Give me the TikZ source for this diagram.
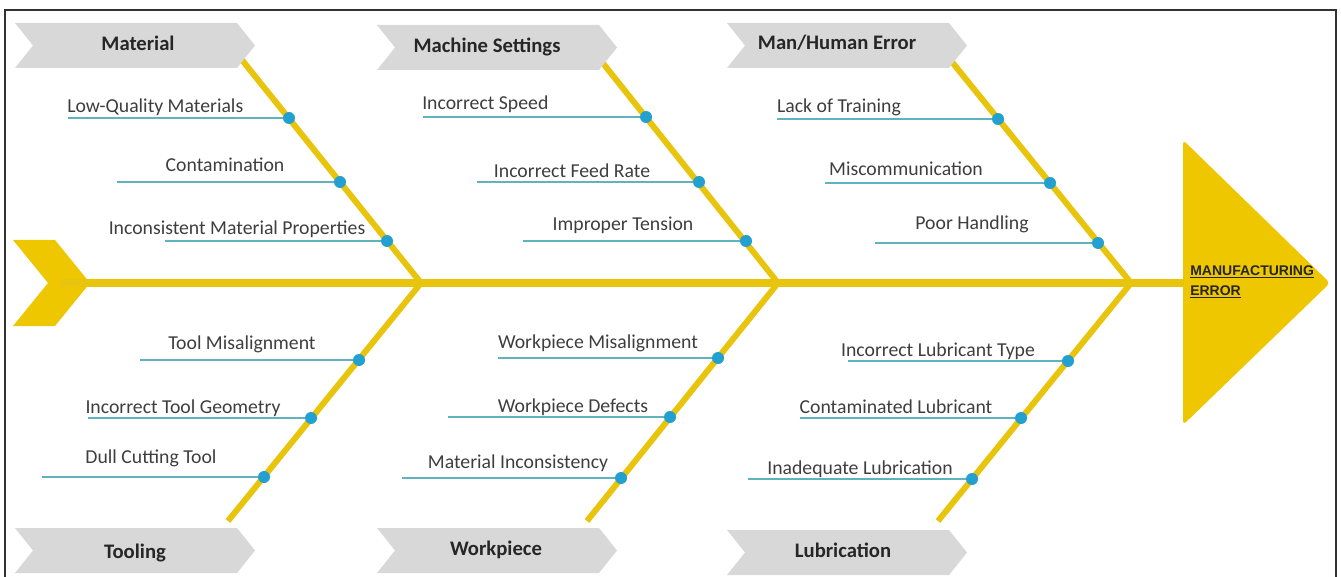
\documentclass[tikz,border=0pt]{standalone}
\usepackage{fontspec}
\setmainfont{Carlito}
\newfontfamily\headfont{Liberation Sans}

\definecolor{boneyellow}{RGB}{232,196,12}
\definecolor{headyellow}{RGB}{238,199,0}
\definecolor{catgrey}{RGB}{216,216,216}
\definecolor{linecol}{RGB}{95,178,190}
\definecolor{dotcol}{RGB}{35,160,208}
\definecolor{textcol}{RGB}{62,62,62}
\definecolor{framecol}{RGB}{50,50,50}

\tikzset{
  spine/.style={boneyellow, line width=6pt},
  bone/.style={boneyellow, line width=4.5pt},
  subline/.style={linecol, line width=1.2pt},
  dotnode/.style={circle, fill=dotcol, inner sep=0pt, minimum size=9pt},
  cause/.style={font=\fontsize{14.8}{17}\selectfont, text=textcol, anchor=base, inner sep=0pt},
  catlabel/.style={font=\fontsize{15.5}{18}\selectfont\bfseries, text=black!85, anchor=base, inner sep=0pt},
  effect/.style={font=\headfont\bfseries\fontsize{10.5}{15}\selectfont, text=black!85, align=left, anchor=west, inner sep=0pt}
}

% grey category arrow, top left corner at (#1,#2)
\newcommand{\catarrow}[2]{\fill[catgrey] (#1,#2) -- ++(222,0) -- ++(18,22.5) -- ++(-18,22.5) -- ++(-222,0) -- ++(18,-22.5) -- cycle;}

\begin{document}
\begin{tikzpicture}[x=0.75pt,y=-0.75pt]
\useasboundingbox (0,0) rectangle (1341,577);
\draw[framecol, line width=1.1pt] (5,578) -- (5,10) -- (1336,10) -- (1336,578);

% tail and head
\fill[headyellow] (13,240) -- (55,240) -- (90,283) -- (55,326) -- (13,326) -- (48,283) -- cycle;
\fill[headyellow, rounded corners=3pt] (1183,140) -- (1330,283) -- (1183,425) -- cycle;
\node[effect] (err) at (1190,282) {\underline{MANUFACTURING}\\\underline{ERROR}};

% spine and bones
\coordinate (tail) at (60,283);
\coordinate (head) at (1184,283);
\coordinate (jA) at (421,283);
\coordinate (jB) at (778,283);
\coordinate (jC) at (1131,283);
\coordinate (matTop) at (242,60);
\coordinate (macTop) at (602,62);
\coordinate (manTop) at (952,62);
\coordinate (tooBot) at (228,521);
\coordinate (worBot) at (587,521);
\coordinate (lubBot) at (938,521);
\draw[spine] (tail) -- (head);
\draw[bone] (matTop) -- (jA) -- (tooBot);
\draw[bone] (macTop) -- (jB) -- (worBot);
\draw[bone] (manTop) -- (jC) -- (lubBot);

% categories
\catarrow{15}{23}
\catarrow{377}{25}
\catarrow{727}{23}
\catarrow{15}{528}
\catarrow{377}{528}
\catarrow{727}{530}
\node[catlabel] (mat) at (138,51) {Material};
\node[catlabel] (mac) at (487,53) {Machine Settings};
\node[catlabel] (man) at (837,50) {Man/Human Error};
\node[catlabel] (too) at (135,558) {Tooling};
\node[catlabel] (wor) at (496,555) {Workpiece};
\node[catlabel] (lub) at (843,557) {Lubrication};

% cause lines
\coordinate (a1s) at (68,118);   \coordinate (a1e) at (289,118);
\coordinate (a2s) at (117,182);  \coordinate (a2e) at (340,182);
\coordinate (a3s) at (165,241);  \coordinate (a3e) at (387,241);
\coordinate (b1s) at (423,117);  \coordinate (b1e) at (646,117);
\coordinate (b2s) at (477,182);  \coordinate (b2e) at (699,182);
\coordinate (b3s) at (523,241);  \coordinate (b3e) at (746,241);
\coordinate (c1s) at (777,119);  \coordinate (c1e) at (998,119);
\coordinate (c2s) at (825,183);  \coordinate (c2e) at (1050,183);
\coordinate (c3s) at (875,243);  \coordinate (c3e) at (1098,243);
\coordinate (d1s) at (140,360);  \coordinate (d1e) at (359,360);
\coordinate (d2s) at (88,418);   \coordinate (d2e) at (311,418);
\coordinate (d3s) at (42,477);   \coordinate (d3e) at (264,477);
\coordinate (e1s) at (498,358);  \coordinate (e1e) at (718,358);
\coordinate (e2s) at (448,417);  \coordinate (e2e) at (670,417);
\coordinate (e3s) at (402,478);  \coordinate (e3e) at (621,478);
\coordinate (f1s) at (848,361);  \coordinate (f1e) at (1068,361);
\coordinate (f2s) at (800,418);  \coordinate (f2e) at (1021,418);
\coordinate (f3s) at (748,479);  \coordinate (f3e) at (972,479);
\draw[subline] (a1s) -- (a1e) (a2s) -- (a2e) (a3s) -- (a3e);
\draw[subline] (b1s) -- (b1e) (b2s) -- (b2e) (b3s) -- (b3e);
\draw[subline] (c1s) -- (c1e) (c2s) -- (c2e) (c3s) -- (c3e);
\draw[subline] (d1s) -- (d1e) (d2s) -- (d2e) (d3s) -- (d3e);
\draw[subline] (e1s) -- (e1e) (e2s) -- (e2e) (e3s) -- (e3e);
\draw[subline] (f1s) -- (f1e) (f2s) -- (f2e) (f3s) -- (f3e);
\node[dotnode] (a1) at (a1e) {};
\node[dotnode] (a2) at (a2e) {};
\node[dotnode] (a3) at (a3e) {};
\node[dotnode] (b1) at (b1e) {};
\node[dotnode] (b2) at (b2e) {};
\node[dotnode] (b3) at (b3e) {};
\node[dotnode] (c1) at (c1e) {};
\node[dotnode] (c2) at (c2e) {};
\node[dotnode] (c3) at (c3e) {};
\node[dotnode] (d1) at (d1e) {};
\node[dotnode] (d2) at (d2e) {};
\node[dotnode] (d3) at (d3e) {};
\node[dotnode] (e1) at (e1e) {};
\node[dotnode] (e2) at (e2e) {};
\node[dotnode] (e3) at (e3e) {};
\node[dotnode] (f1) at (f1e) {};
\node[dotnode] (f2) at (f2e) {};
\node[dotnode] (f3) at (f3e) {};

% cause texts
\node[cause, anchor=base west] (a1t) at (67,113) {Low-Quality Materials};
\node[cause] (a2t) at (225,172) {Contamination};
\node[cause] (a3t) at (237,235) {Inconsistent Material Properties};
\node[cause, anchor=base west] (b1t) at (422,110) {Incorrect Speed};
\node[cause] (b2t) at (572,178) {Incorrect Feed Rate};
\node[cause] (b3t) at (623,231) {Improper Tension};
\node[cause] (c1t) at (839,113) {Lack of Training};
\node[cause] (c2t) at (906,176) {Miscommunication};
\node[cause] (c3t) at (972,229) {Poor Handling};
\node[cause] (d1t) at (242,349) {Tool Misalignment};
\node[cause] (d2t) at (183,413) {Incorrect Tool Geometry};
\node[cause] (d3t) at (151,463) {Dull Cutting Tool};
\node[cause] (e1t) at (598,348) {Workpiece Misalignment};
\node[cause] (e2t) at (573,412) {Workpiece Defects};
\node[cause] (e3t) at (518,468) {Material Inconsistency};
\node[cause] (f1t) at (938,356) {Incorrect Lubricant Type};
\node[cause] (f2t) at (896,413) {Contaminated Lubricant};
\node[cause] (f3t) at (860,474) {Inadequate Lubrication};
\end{tikzpicture}
\end{document}
